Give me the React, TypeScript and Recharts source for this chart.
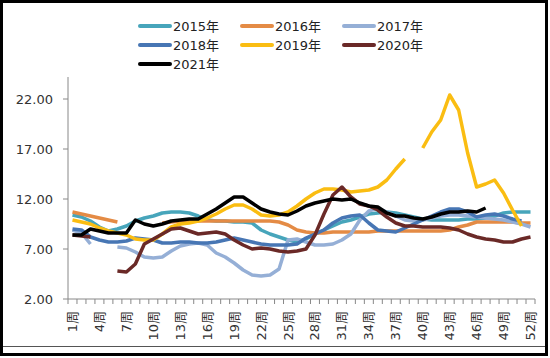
import { LineChart, Line, XAxis, YAxis, Legend } from 'recharts';

// week labels on the category axis
const weeks = [
  '1周', '2周', '3周', '4周', '5周', '6周', '7周', '8周', '9周', '10周',
  '11周', '12周', '13周', '14周', '15周', '16周', '17周', '18周', '19周', '20周',
  '21周', '22周', '23周', '24周', '25周', '26周', '27周', '28周', '29周', '30周',
  '31周', '32周', '33周', '34周', '35周', '36周', '37周', '38周', '39周', '40周',
  '41周', '42周', '43周', '44周', '45周', '46周', '47周', '48周', '49周', '50周',
  '51周', '52周',
];

const yTicks = [2, 7, 12, 17, 22];

const s2015 = [10.4, 10.2, 9.8, 9.2, 8.8, 9.0, 9.3, 9.8, 10.1, 10.3, 10.6, 10.7, 10.7, 10.6, 10.3, 9.9, 9.8, 9.8, 9.7, 9.7, 9.6, 8.9, 8.5, 8.2, 7.9, 7.7, 8.0, 8.5, 8.9, 9.3, 9.7, 9.9, 10.2, 10.5, 10.6, 10.7, 10.6, 10.4, 10.2, 10.0, 9.9, 9.9, 9.9, 9.9, 10.0, 10.0, 10.1, 10.3, 10.6, 10.7, 10.7, 10.7];
const s2016 = [10.7, 10.5, 10.3, 10.1, 9.9, 9.7, null, null, null, null, 9.6, 9.7, 9.8, 9.8, 9.8, 9.8, 9.8, 9.8, 9.8, 9.8, 9.8, 9.8, 9.8, 9.7, 9.4, 8.9, 8.7, 8.6, 8.6, 8.7, 8.7, 8.7, 8.7, 8.7, 8.8, 8.8, 8.8, 8.8, 8.8, 8.8, 8.8, 8.8, 8.9, 9.2, 9.4, 9.7, 9.7, 9.7, 9.7, 9.7, 9.6, 9.6];
const s2017 = [8.9, 8.6, 7.5, null, null, 7.2, 7.1, 6.7, 6.2, 6.1, 6.2, 6.8, 7.3, 7.5, 7.6, 7.4, 6.6, 6.2, 5.6, 4.9, 4.4, 4.3, 4.4, 5.0, 7.9, 8.0, 7.7, 7.4, 7.4, 7.5, 7.9, 8.5, 9.9, 10.8, 11.1, 10.7, 10.3, 9.9, 9.8, 9.9, 10.1, 10.3, 10.4, 10.4, 10.3, 10.2, 10.1, 10.0, 9.9, 9.7, 9.5, 9.2];
const s2018 = [9.0, 8.9, 8.2, 7.9, 7.7, 7.7, 7.8, 8.1, 8.0, 7.9, 7.6, 7.6, 7.7, 7.7, 7.6, 7.6, 7.7, 7.9, 8.1, 7.9, 7.7, 7.5, 7.4, 7.4, 7.4, 7.5, 8.1, 8.5, 8.9, 9.6, 10.1, 10.3, 10.4, 9.6, 8.9, 8.8, 8.7, 9.1, 9.5, 9.9, 10.3, 10.7, 11.0, 11.0, 10.7, 10.2, 10.4, 10.5, 10.3, 10.0, 9.8, null];
const s2019 = [9.9, 9.7, 9.5, 9.1, 8.8, 8.6, 8.4, 8.0, 7.9, 7.9, 8.5, 9.2, 9.5, 9.6, 9.8, 10.1, 10.5, 11.0, 11.4, 11.4, 11.0, 10.4, 10.3, 10.4, 10.7, 11.3, 12.0, 12.6, 13.0, 13.0, 12.9, 12.7, 12.8, 12.9, 13.2, 13.9, 15.0, 16.0, null, 17.1, 18.7, 19.9, 22.4, 20.9, 16.6, 13.2, 13.5, 13.9, 12.6, 10.9, 9.3, null];
const s2020 = [8.4, 8.3, 8.2, null, null, 4.8, 4.7, 5.5, 7.5, 8.0, 8.5, 9.0, 9.1, 8.8, 8.5, 8.6, 8.7, 8.5, 7.9, 7.4, 7.0, 7.1, 7.0, 6.8, 6.7, 6.8, 7.0, 8.4, 10.5, 12.4, 13.2, 12.2, 11.5, 11.3, 10.9, 10.2, 9.6, 9.3, 9.3, 9.2, 9.2, 9.2, 9.1, 8.9, 8.5, 8.2, 8.0, 7.9, 7.7, 7.7, 8.0, 8.2];
const s2021 = [8.4, 8.4, 9.0, 8.8, 8.6, 8.6, 8.6, 9.9, 9.5, 9.3, 9.5, 9.8, 9.9, 10.0, 10.0, 10.5, 11.0, 11.6, 12.2, 12.2, 11.6, 11.0, 10.7, 10.5, 10.4, 10.8, 11.3, 11.6, 11.8, 12.0, 11.9, 12.0, 11.6, 11.3, 11.2, 10.6, 10.3, 10.3, 10.1, 10.0, 10.2, 10.5, 10.7, 10.7, 10.8, 10.7, 11.1, null, null, null, null, null];

const series = [
  { key: 'a', name: '2015年', values: s2015, color: '#47a5bb' },
  { key: 'b', name: '2016年', values: s2016, color: '#e48b45' },
  { key: 'c', name: '2017年', values: s2017, color: '#95afd6' },
  { key: 'd', name: '2018年', values: s2018, color: '#4776b4' },
  { key: 'e', name: '2019年', values: s2019, color: '#fabd12' },
  { key: 'f', name: '2020年', values: s2020, color: '#6a2927' },
  { key: 'g', name: '2021年', values: s2021, color: '#000000' },
];

const data = weeks.map((w, i) => {
  const row: any = { week: w };
  series.forEach(s => { row[s.key] = s.values[i]; });
  return row;
});

const FONT = "'DejaVu Sans', 'Noto Sans CJK SC', sans-serif";
const AXIS = '#888888';
const HALF = 4.5;

const WeekTick = ({ x, y, payload, index }: any) => {
  const i = payload?.index ?? index;
  const last = i === weeks.length - 1;
  return (
    <g>
      <line x1={x - HALF} y1={y} x2={x - HALF} y2={y + 5} stroke={AXIS} />
      {last && <line x1={x + HALF} y1={y} x2={x + HALF} y2={y + 5} stroke={AXIS} />}
      {i % 3 === 0 && (
        <text
          x={x}
          y={y + 12}
          transform={`rotate(-90, ${x}, ${y + 12})`}
          textAnchor="end"
          dominantBaseline="central"
          fontSize={13}
          fontFamily={FONT}
          fill="#333"
        >
          {payload.value}
        </text>
      )}
    </g>
  );
};

const LegendGrid = ({ payload }: any) => (
  <div style={{ display: 'grid', gridTemplateColumns: 'repeat(3, 102px)', paddingLeft: 78, paddingTop: 7 }}>
    {(payload || []).map((p: any) => (
      <div key={p.value} style={{ display: 'flex', alignItems: 'center', height: 19 }}>
        <span style={{ display: 'inline-block', width: 34, height: 4, background: p.color, borderRadius: 2 }} />
        <span style={{ marginLeft: 1, fontSize: 13, color: '#222', fontFamily: FONT }}>{p.value}</span>
      </div>
    ))}
  </div>
);

export default function App() {
  return (
    <div style={{ position: 'fixed', left: 0, top: 0, width: 550, height: 358, background: '#fff', fontFamily: FONT }}>
      <LineChart width={550} height={358} data={data} margin={{ top: 49, right: 15, left: 8, bottom: 9 }}>
        <XAxis
          dataKey="week"
          interval={0}
          tick={<WeekTick />}
          tickLine={false}
          tickSize={0}
          tickMargin={0}
          height={50}
          padding={{ left: HALF, right: HALF }}
          axisLine={{ stroke: AXIS }}
        />
        <YAxis
          domain={[2, 27]}
          ticks={yTicks}
          width={60}
          tickFormatter={(v: number) => v.toFixed(2)}
          tick={{ fill: '#333', fontSize: 13, fontFamily: FONT }}
          tickSize={5}
          tickMargin={10}
          axisLine={{ stroke: AXIS }}
          tickLine={{ stroke: AXIS }}
          allowDataOverflow
        />
        <Legend
          layout="horizontal"
          verticalAlign="middle"
          align="center"
          content={<LegendGrid />}
          wrapperStyle={{ left: 60, top: 9, width: 400, height: 68, background: '#fff' }}
        />
        {series.map(s => (
          <Line
            key={s.key}
            type="linear"
            dataKey={s.key}
            name={s.name}
            stroke={s.color}
            strokeWidth={3.5}
            strokeLinejoin="round"
            dot={false}
            activeDot={false}
            isAnimationActive={false}
          />
        ))}
      </LineChart>
      <div style={{ position: 'absolute', left: 0, top: 0, width: 548, height: 356, border: '3px solid #000', boxSizing: 'border-box', pointerEvents: 'none' }} />
      <div style={{ position: 'absolute', left: 3, top: 346, width: 542, height: 1, background: '#555', pointerEvents: 'none' }} />
    </div>
  );
}
